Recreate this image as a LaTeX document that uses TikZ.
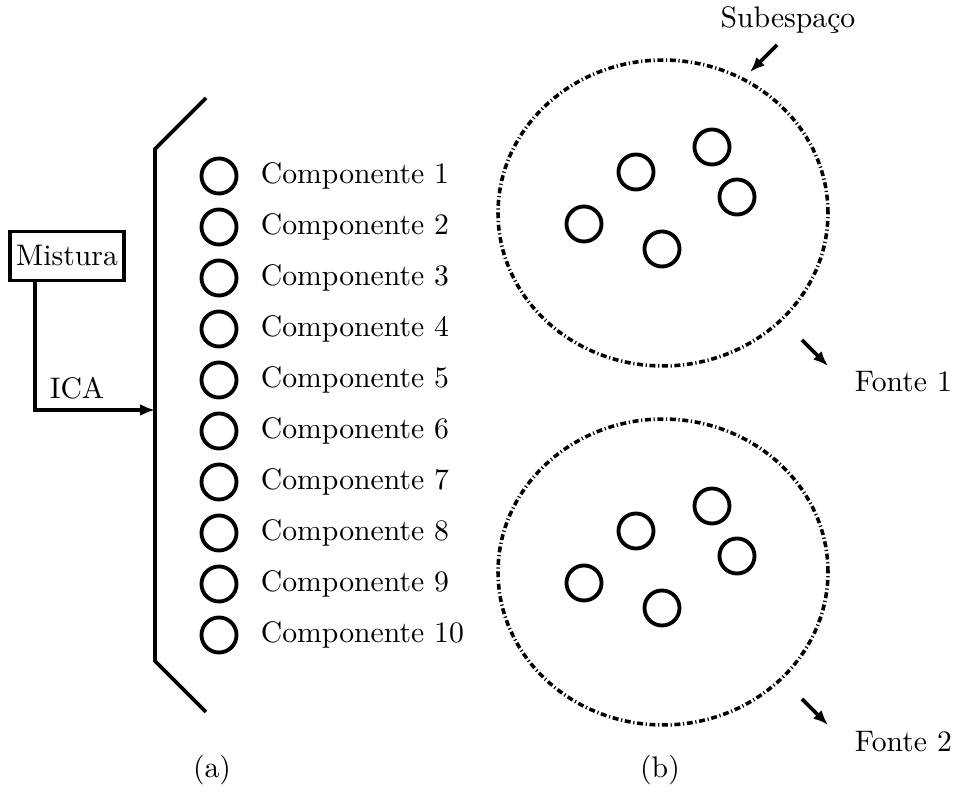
\documentclass[tikz,border=0pt]{standalone}
\usetikzlibrary{arrows.meta,shapes.geometric}
\begin{document}
\begin{tikzpicture}[x=0.3367pt,y=-0.3367pt,line width=1.3pt,
  dot/.style={circle,draw,minimum size=11.8pt,inner sep=0pt},
  lbl/.style={inner sep=0pt},
  subsp/.style={ellipse,draw,line width=1.2pt,dash pattern=on 2pt off 0.9pt on 0.4pt off 0.9pt,
    minimum width=111.1pt,minimum height=103pt,inner sep=0pt},
  arr/.style={-{Latex[length=5pt,width=4pt]}}]
\useasboundingbox (0,0) rectangle (955,811);

% (a) mixture decomposed by ICA into components
\node[draw,minimum width=38.4pt,minimum height=16.5pt,inner sep=0pt] (mix) at (67,256) {Mistura};
\coordinate (turn) at (35,410);
\coordinate (in) at (155,410);
\draw[arr] (mix.south -| turn) -- (turn) -- (in);
\node[lbl] (ica) at (77,388) {ICA};
\draw (206,98) -- (155,149) -- (155,661) -- (206,712);
\foreach \k in {1,...,10} {
  \node[dot] (c\k) at (219,125+51*\k) {};
  \node[lbl,anchor=west] (t\k) at (259,125+51*\k) {Componente \k};
}
\node[lbl] (la) at (212,770) {(a)};

% (b) components grouped into subspaces
\node[subsp] (s1) at (663,213) {};
\node[subsp] (s2) at (663,572) {};
\foreach \n/\x/\y in {1/584/224,2/636/172,3/712/147,4/737/197,5/662/249} {
  \node[dot] (p\n) at (\x,\y) {};
  \node[dot] (q\n) at (\x,\y+359) {};
}
\node[lbl] (sub) at (788,20) {Subespaço};
\coordinate (subA) at (777,45);
\coordinate (subB) at (750,72);
\draw[arr] (subA) -- (subB);
\node[lbl,anchor=west] (f1) at (853,382) {Fonte 1};
\node[lbl,anchor=west] (f2) at (853,742) {Fonte 2};
\coordinate (f1A) at (802,340);
\coordinate (f1B) at (828,366);
\coordinate (f2A) at (802,699);
\coordinate (f2B) at (828,725);
\draw[arr] (f1A) -- (f1B);
\draw[arr] (f2A) -- (f2B);
\node[lbl] (lb) at (660,770) {(b)};
\end{tikzpicture}
\end{document}
